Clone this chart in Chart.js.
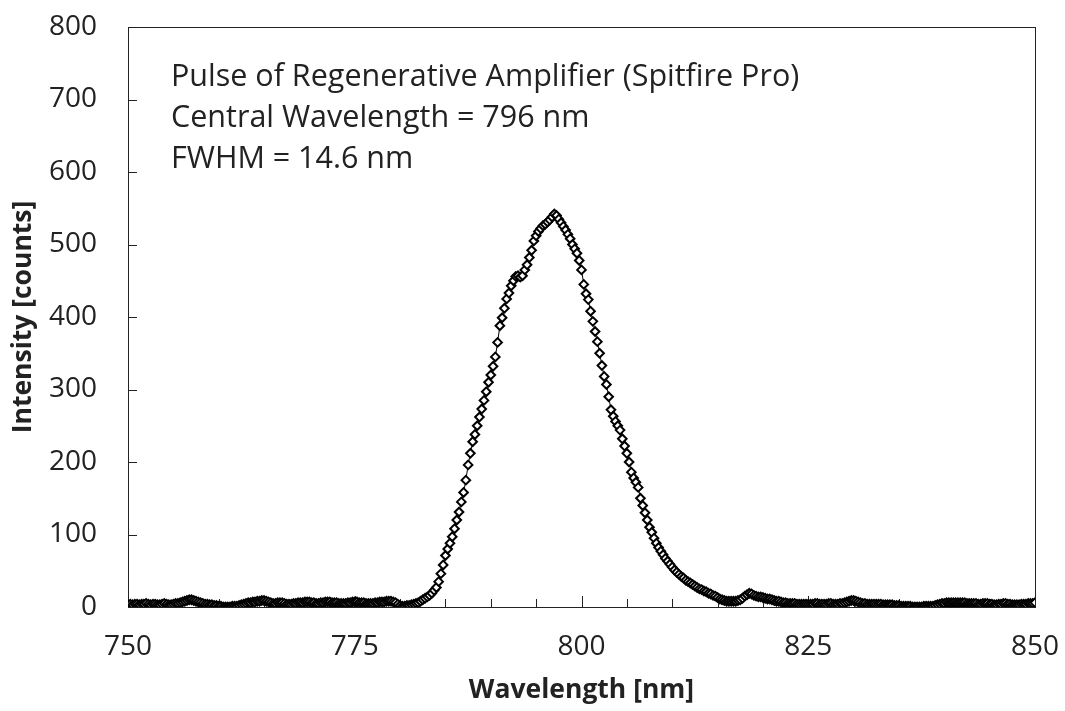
<!DOCTYPE html>
<html>
<head>
<meta charset="utf-8">
<title>Spitfire Pro spectrum</title>
<script src="https://cdn.jsdelivr.net/npm/chart.js@4/dist/chart.umd.min.js"></script>
<style>
  html, body { margin: 0; padding: 0; background: #fff; }
  #wrap { width: 1065px; height: 711px; }
</style>
</head>
<body>
<div id="wrap"><canvas id="spectrum" width="1065" height="711"></canvas></div>
<script>
// spectrometer grid: 750 nm to 850 nm, one sample every 0.25 nm
const wlStart = 750;
const wlStep = 0.25;

// intensity, one value per sample
const intensity = [
  3, 4, 3, 4, 4, 3, 4, 4, 5, 4, 3, 4, 4, 3, 3, 4, 5, 4, 3, 3, 4,
  5, 5, 6, 7, 8, 9, 10, 10, 9, 8, 7, 6, 5, 4, 4, 3, 3, 2, 2, 1,
  1, 0, 0, 0, 0, 1, 1, 1, 2, 3, 4, 5, 6, 6, 7, 7, 8, 8, 9, 9,
  8, 7, 6, 5, 5, 6, 6, 6, 5, 4, 4, 4, 5, 5, 6, 6, 6, 7, 7, 7,
  6, 6, 5, 5, 6, 6, 7, 7, 7, 6, 6, 6, 5, 5, 5, 5, 6, 6, 7, 7,
  7, 6, 6, 6, 5, 5, 5, 5, 6, 6, 7, 7, 7, 8, 8, 8, 7, 6, 4, 2,
  1, 1, 2, 2, 3, 4, 5, 6, 8, 10, 12, 14, 16, 19, 23, 27, 35, 46, 58, 71,
  80, 88, 97, 108, 120, 131, 145, 158, 175, 196, 212, 228, 238, 250, 262, 273, 285, 297, 310, 320,
  332, 345, 365, 388, 399, 412, 425, 433, 443, 450, 456, 457, 455, 457, 465, 472, 482, 492, 505, 512,
  518, 522, 526, 528, 531, 534, 538, 542, 540, 535, 530, 525, 520, 514, 508, 500, 494, 488, 478, 465,
  445, 432, 424, 408, 394, 380, 366, 350, 333, 318, 307, 290, 272, 263, 256, 250, 244, 232, 222, 212,
  200, 186, 178, 172, 165, 150, 140, 130, 120, 110, 103, 95, 88, 82, 77, 72, 67, 63, 59, 55,
  51, 48, 45, 42, 40, 37, 35, 33, 31, 29, 27, 25, 24, 22, 21, 19, 18, 16, 15, 13,
  11, 10, 9, 8, 8, 8, 8, 8, 9, 10, 12, 15, 17, 19, 18, 16, 15, 14, 14, 13,
  12, 11, 11, 10, 9, 8, 8, 7, 6, 6, 5, 5, 5, 5, 4, 4, 4, 4, 4, 4,
  4, 4, 5, 5, 4, 4, 4, 4, 5, 5, 4, 4, 4, 5, 5, 6, 7, 8, 9, 9,
  8, 7, 6, 5, 5, 4, 4, 4, 4, 4, 4, 4, 3, 3, 3, 3, 3, 2, 2, 2,
  1, 1, 1, 1, 1, 0, 0, 0, 0, 0, 1, 1, 1, 1, 1, 2, 3, 4, 5, 5,
  6, 6, 6, 6, 6, 6, 6, 6, 6, 5, 5, 5, 5, 5, 4, 4, 5, 5, 5, 4,
  4, 3, 3, 4, 4, 5, 5, 4, 4, 3, 3, 3, 3, 4, 4, 4, 5, 5, 5, 6,
];

const xTicks = [750, 775, 800, 825, 850];
const yTicks = [0, 100, 200, 300, 400, 500, 600, 700, 800];

const notes = [
  "Pulse of Regenerative Amplifier (Spitfire Pro)",
  "Central Wavelength = 796 nm",
  "FWHM = 14.6 nm",
];

const points = intensity.map((v, i) => ({ x: wlStart + i * wlStep, y: v }));

const fontFamily = "'Open Sans', Lato, sans-serif";

// frame + inward tick marks
const framePlugin = {
  id: "frame",
  beforeDatasetsDraw(chart) {
    const { ctx, chartArea, scales } = chart;
    ctx.save();
    ctx.strokeStyle = "#222";
    ctx.lineWidth = 1;
    ctx.strokeRect(chartArea.left + 0.5, chartArea.top + 0.5,
      chartArea.right - chartArea.left, chartArea.bottom - chartArea.top);
    ctx.beginPath();
    for (let v = 750; v <= 850; v += 5) {
      const px = Math.round(scales.x.getPixelForValue(v)) + 0.5;
      const len = v % 25 === 0 ? 11 : 8;
      ctx.moveTo(px, chartArea.bottom);
      ctx.lineTo(px, chartArea.bottom - len);
    }
    yTicks.forEach((v) => {
      const py = Math.round(scales.y.getPixelForValue(v)) + 0.5;
      ctx.moveTo(chartArea.left, py);
      ctx.lineTo(chartArea.left + 9, py);
    });
    ctx.stroke();
    ctx.restore();
  },
  afterDraw(chart) {
    const { ctx } = chart;
    ctx.save();
    ctx.fillStyle = "#222";
    ctx.font = "30.5px " + fontFamily;
    ctx.textBaseline = "alphabetic";
    notes.forEach((t, i) => ctx.fillText(t, 171, 86 + i * 41));
    ctx.restore();
  },
};

new Chart(document.getElementById("spectrum"), {
  type: "line",
  data: {
    datasets: [
      {
        data: points,
        borderColor: "#000",
        borderWidth: 1,
        pointStyle: "rectRot",
        pointRadius: 4.3,
        pointBorderWidth: 2,
        pointBorderColor: "#000",
        pointBackgroundColor: "#fff",
        tension: 0,
      },
    ],
  },
  options: {
    responsive: false,
    animation: false,
    layout: { padding: { left: 0, right: 30, top: 27, bottom: 0 } },
    plugins: { legend: { display: false }, tooltip: { enabled: false } },
    scales: {
      x: {
        type: "linear",
        min: 750,
        max: 850,
        afterBuildTicks: (s) => { s.ticks = xTicks.map((v) => ({ value: v })); },
        afterFit: (s) => {
          s.height = 104;
          s.paddingLeft = 0;
          s.paddingRight = 0;
        },
        grid: { display: false, drawTicks: false },
        border: { display: false },
        ticks: { color: "#222", font: { family: fontFamily, size: 28 }, padding: 23 },
        title: {
          display: true,
          text: "Wavelength [nm]",
          color: "#222",
          font: { family: fontFamily, size: 26.5, weight: "bold" },
          padding: { top: 0, bottom: 5 },
        },
      },
      y: {
        min: 0,
        max: 800,
        afterBuildTicks: (s) => { s.ticks = yTicks.map((v) => ({ value: v })); },
        afterFit: (s) => {
          s.width = 128;
          s.paddingTop = 0;
          s.paddingBottom = 0;
        },
        grid: { display: false, drawTicks: false },
        border: { display: false },
        ticks: { color: "#222", font: { family: fontFamily, size: 28 }, padding: 31 },
        title: {
          display: true,
          text: "Intensity [counts]",
          color: "#222",
          font: { family: fontFamily, size: 26.5, weight: "bold" },
          padding: { top: 8, bottom: 0 },
        },
      },
    },
  },
  plugins: [framePlugin],
});
</script>
</body>
</html>
